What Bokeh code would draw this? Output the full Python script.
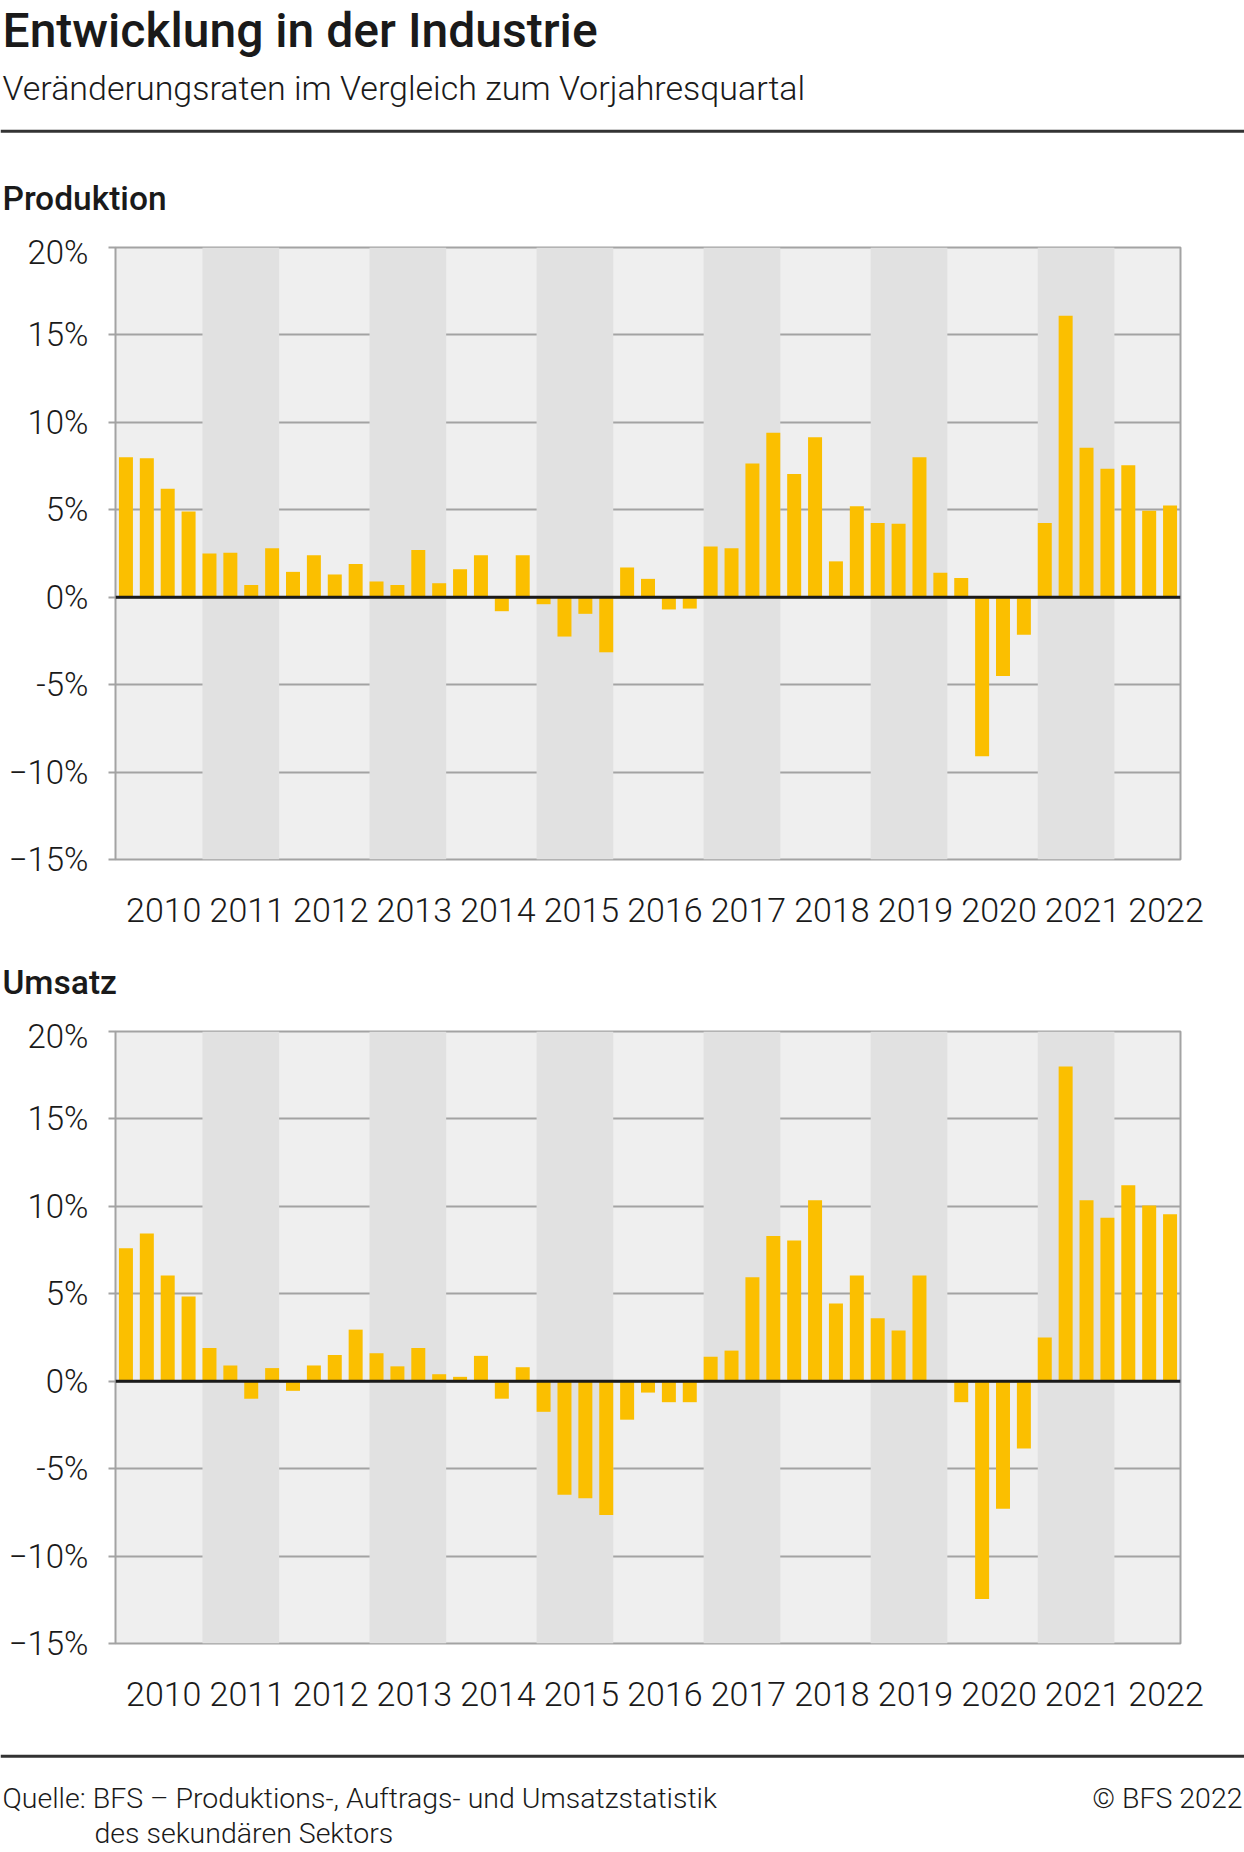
from bokeh.plotting import figure
from bokeh.layouts import column, row
from bokeh.models import Range1d, FixedTicker, Span
from bokeh.core.properties import value
from bokeh.embed import file_html
from bokeh.resources import INLINE

# ---------------- data ----------------
years = [str(y) for y in range(2010, 2023)]
produktion = [8.0, 7.95, 6.2, 4.9, 2.5, 2.55, 0.7, 2.8, 1.45, 2.4, 1.3, 1.9,
              0.9, 0.7, 2.7, 0.8, 1.6, 2.4, -0.8, 2.4, -0.4, -2.25, -0.95, -3.15,
              1.7, 1.05, -0.7, -0.65, 2.9, 2.8, 7.65, 9.4, 7.05, 9.15, 2.05, 5.2,
              4.25, 4.2, 8.0, 1.4, 1.1, -9.1, -4.5, -2.15, 4.25, 16.1, 8.55, 7.35,
              7.55, 4.95, 5.25]
umsatz = [7.6, 8.45, 6.05, 4.85, 1.9, 0.9, -1.0, 0.75, -0.55, 0.9, 1.5, 2.95,
          1.6, 0.85, 1.9, 0.4, 0.25, 1.45, -1.0, 0.8, -1.75, -6.5, -6.7, -7.65,
          -2.2, -0.65, -1.2, -1.2, 1.4, 1.75, 5.95, 8.3, 8.05, 10.35, 4.45, 6.05,
          3.6, 2.9, 6.05, 0.0, -1.2, -12.45, -7.3, -3.85, 2.5, 18.0, 10.35, 9.35,
          11.2, 10.05, 9.55]
y_ticks = [-15, -10, -5, 0, 5, 10, 15, 20]
y_tick_labels = ["\u221215%", "\u221210%", "-5%", "0%", "5%", "10%", "15%", "20%"]

TITLE = "Entwicklung in der Industrie"
SUBTITLE = "Veränderungsraten im Vergleich zum Vorjahresquartal"
PANEL1 = "Produktion"
PANEL2 = "Umsatz"
SOURCE1 = "Quelle: BFS \u2013 Produktions-, Auftrags- und Umsatzstatistik"
SOURCE2 = "des sekundären Sektors"
COPY = "\u00a9 BFS 2022"

# ---------------- style ----------------
W = 1244
YELLOW = "#fbbf00"
LIGHT_BG = "#efefef"
DARK_BG = "#e1e1e1"
GRID = "#a3a3a3"
TXT = "#1a1a1a"
F_LIGHT = value("Roboto Light, Roboto")
F_MED = value("Roboto Medium, Roboto")
FL = "Roboto Light, Roboto"
BAR_W = 0.67
Q = 4
LABEL_SHIFT = 0.31

n = len(produktion)
xs = [i + 0.5 for i in range(n)]
band_left = [Q * k + (1 - BAR_W) / 2 for k in range(1, len(years), 2)]
band_right = [Q * k + Q - (1 - BAR_W) / 2 for k in range(1, len(years), 2)]
year_ticks = [Q * k + Q / 2 + LABEL_SHIFT for k in range(len(years))]


def text_fig(height):
    p = figure(width=W, height=height, x_range=Range1d(0, W), y_range=Range1d(height, 0),
               x_axis_type=None, y_axis_type=None, output_backend="svg",
               toolbar_location=None, min_border=0, title=None)
    p.grid.visible = False
    p.outline_line_color = None
    return p


def chart(values, top_border, bottom_border):
    height = top_border + 612 + bottom_border
    p = figure(width=W, height=height, x_range=Range1d(0, n), y_range=Range1d(-15, 20),
               output_backend="svg", toolbar_location=None, title=None,
               min_border_left=115, min_border_right=64,
               min_border_top=top_border, min_border_bottom=bottom_border)
    p.background_fill_color = LIGHT_BG
    p.border_fill_color = "white"
    p.outline_line_color = GRID
    p.outline_line_width = 2
    p.xgrid.visible = False
    p.ygrid.ticker = FixedTicker(ticks=y_ticks)
    p.ygrid.grid_line_color = GRID
    p.ygrid.grid_line_width = 2

    p.quad(left=band_left, right=band_right, bottom=-15, top=20,
           fill_color=DARK_BG, line_color=None)
    p.vbar(x=xs, top=values, width=BAR_W, fill_color=YELLOW, line_color=None)
    p.add_layout(Span(location=0, dimension="width", line_color=TXT, line_width=3))

    ya = p.yaxis[0]
    ya.ticker = FixedTicker(ticks=y_ticks)
    ya.major_label_overrides = dict(zip(y_ticks, y_tick_labels))
    ya.axis_line_color = None
    ya.major_tick_line_color = GRID
    ya.major_tick_line_width = 2
    ya.major_tick_out = 7
    ya.major_tick_in = 0
    ya.minor_tick_line_color = None
    ya.major_label_text_font = FL
    ya.major_label_text_font_size = "33px"
    ya.major_label_text_color = TXT
    ya.major_label_standoff = 20

    xa = p.xaxis[0]
    xa.ticker = FixedTicker(ticks=year_ticks)
    xa.major_label_overrides = dict(zip(year_ticks, years))
    xa.axis_line_color = None
    xa.major_tick_line_color = None
    xa.minor_tick_line_color = None
    xa.major_label_text_font = FL
    xa.major_label_text_font_size = "34px"
    xa.major_label_text_color = TXT
    xa.major_label_standoff = 32
    return p


def put(p, x, y, txt, font, size, style="normal", align="left"):
    p.text(x=[x], y=[y], text=[txt], text_font=font, text_font_size=size,
           text_font_style=style, text_color=TXT, text_baseline="middle",
           text_align=align)


# header (0..232)
h = text_fig(232)
put(h, 2, 29.5, TITLE, F_MED, "48px")
put(h, 2, 87, SUBTITLE, F_LIGHT, "34px")
h.segment(x0=[0], y0=[130.7], x1=[W], y1=[130.7], line_color="#333333", line_width=3)
put(h, 2, 198, PANEL1, F_MED, "33.5px")

p1 = chart(produktion, 15, 91)      # 232..950

m = text_fig(66)                    # 950..1016
put(m, 2, 32, PANEL2, F_MED, "33.5px")

p2 = chart(umsatz, 15, 87)          # 1016..1730

f = text_fig(122)                   # 1730..1852
f.segment(x0=[0], y0=[25.7], x1=[W], y1=[25.7], line_color="#333333", line_width=3)
put(f, 2, 68, SOURCE1, F_LIGHT, "28.5px")
put(f, 94, 103, SOURCE2, F_LIGHT, "28.5px")
put(f, W - 2, 68, COPY, F_LIGHT, "28.5px", align="right")

layout = column(row(h), p1, row(m), p2, row(f), spacing=0)
open("out.html", "w").write(file_html(layout, INLINE))
